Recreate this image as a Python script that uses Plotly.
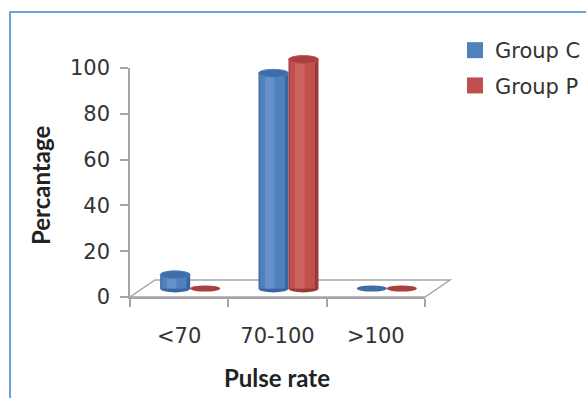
import plotly.graph_objects as go

# ---- data ----
categories = ["<70", "70-100", ">100"]
group_c = [6, 94, 0]
group_p = [0, 100, 0]
series_names = ["Group C", "Group P"]
y_ticks = [0, 20, 40, 60, 80, 100]

# ---- geometry (pixels) ----
W, H = 586, 398
AX_L, AX_R, AX_B, AX_T = 130, 425, 297, 68      # front plane of the chart
DX, DY = 11, 8.5                                  # depth shift of the bar plane
FLOOR_DX, FLOOR_DY = 25, 17                       # depth of the floor
Y_RANGE = [0, 100]
Y2_RANGE = [-10, 106]


def fx(p):
    return p / W


def fy(p):
    return 1 - p / H


def y_domain(pix0, pix100, rng):
    scale = (pix0 - pix100) / 100.0
    top = pix0 - rng[1] * scale
    bot = pix0 - rng[0] * scale
    return [fy(bot), fy(top)]


palettes = {
    "Group C": dict(edge="#3A66A0", main="#4F81BD", light="#6690CC", top="#3F6DA8", legend="#4F81BD"),
    "Group P": dict(edge="#983A37", main="#C0504D", light="#CF625E", top="#A8413E", legend="#C0504D"),
}
BAR_W = 0.305
offsets = [-BAR_W, 0.0]
EH = 1.7   # half height of cylinder ends, in value units

fig = go.Figure()
shapes = []

# floor of the 3D plot
floor = (f"M {fx(AX_L)},{fy(AX_B)} L {fx(AX_R)},{fy(AX_B)} "
         f"L {fx(AX_R + FLOOR_DX)},{fy(AX_B - FLOOR_DY)} "
         f"L {fx(AX_L + FLOOR_DX)},{fy(AX_B - FLOOR_DY)} Z")
shapes.append(dict(type="path", path=floor, xref="paper", yref="paper",
                   line=dict(color="#A6A6A6", width=1.5), fillcolor="white", layer="below"))

# outer chart border
shapes.append(dict(type="rect", xref="paper", yref="paper",
                   x0=fx(10), x1=fx(W + 20), y0=fy(12), y1=fy(H + 20),
                   line=dict(color="#6FA0D8", width=2), layer="above"))

for name, vals, off in zip(series_names, [group_c, group_p], offsets):
    pal = palettes[name]
    layers = [
        (pal["edge"], BAR_W, off),
        (pal["main"], BAR_W * 0.84, off + BAR_W * 0.04),
        (pal["light"], BAR_W * 0.32, off + BAR_W * 0.22),
    ]
    for color, w, o in layers:
        fig.add_trace(go.Bar(
            x=categories, y=vals, name=name, width=w, offset=o,
            marker=dict(color=color, line=dict(width=0)),
            showlegend=False, xaxis="x2", yaxis="y2", hoverinfo="skip",
        ))
    # cylinder ends
    for j, v in enumerate(vals):
        cx = j + off + BAR_W / 2
        if v > 0:
            shapes.append(dict(type="circle", xref="x2", yref="y2",
                               x0=cx - BAR_W / 2, x1=cx + BAR_W / 2, y0=-EH, y1=EH,
                               fillcolor=pal["edge"], line=dict(width=0), layer="below"))
            shapes.append(dict(type="circle", xref="x2", yref="y2",
                               x0=cx - BAR_W / 2, x1=cx + BAR_W / 2, y0=v - EH, y1=v + EH,
                               fillcolor=pal["top"], line=dict(color=pal["main"], width=1),
                               layer="above"))
        else:
            shapes.append(dict(type="circle", xref="x2", yref="y2",
                               x0=cx - BAR_W / 2, x1=cx + BAR_W / 2, y0=-EH * 0.8, y1=EH * 0.8,
                               fillcolor=pal["top"], line=dict(width=0), layer="above"))
    # legend entry
    fig.add_trace(go.Scatter(
        x=[None], y=[None], mode="markers", name=name, legendgroup=name,
        marker=dict(symbol="square", size=17, color=pal["legend"]),
        xaxis="x", yaxis="y",
    ))

tick_font = dict(family="DejaVu Sans", size=21, color="#333333")

fig.update_layout(
    width=W, height=H,
    margin=dict(l=0, r=0, t=0, b=0, autoexpand=False),
    paper_bgcolor="white", plot_bgcolor="rgba(0,0,0,0)",
    barmode="overlay",
    showlegend=True,
    legend=dict(x=fx(455), y=fy(30), xanchor="left", yanchor="top",
                font=dict(family="DejaVu Sans", size=21, color="#333333"),
                bgcolor="rgba(0,0,0,0)", itemsizing="trace", tracegroupgap=5),
    xaxis=dict(
        domain=[fx(AX_L), fx(AX_R)], type="category", categoryarray=categories,
        range=[-0.5, 2.5], showline=True, linecolor="#A6A6A6", linewidth=1.5,
        ticks="outside", tickson="boundaries", ticklen=8, tickcolor="#A6A6A6",
        tickwidth=1.5, tickfont=tick_font, showgrid=False, zeroline=False,
        ticklabelstandoff=19, fixedrange=True, anchor="y",
    ),
    yaxis=dict(
        domain=[fy(AX_B), fy(AX_T)], range=Y_RANGE, tickvals=y_ticks,
        showline=True, linecolor="#A6A6A6", linewidth=1.5,
        ticks="outside", ticklen=8, tickcolor="#A6A6A6", tickwidth=1.5,
        tickfont=tick_font, showgrid=False, zeroline=False,
        ticklabelstandoff=6, fixedrange=True, anchor="x",
    ),
    xaxis2=dict(
        domain=[fx(AX_L + DX), fx(AX_R + DX)], type="category",
        categoryarray=categories, range=[-0.5, 2.5], visible=False,
        anchor="y2", fixedrange=True,
    ),
    yaxis2=dict(
        domain=y_domain(AX_B - DY, AX_T - DY, Y2_RANGE), range=Y2_RANGE,
        visible=False, anchor="x2", fixedrange=True,
    ),
    shapes=shapes,
    annotations=[
        dict(text="<b>Percantage</b>", xref="paper", yref="paper",
             x=fx(40), y=fy(186), xanchor="center", yanchor="middle",
             textangle=-90, showarrow=False,
             font=dict(family="Lato", size=24, color="#222222")),
        dict(text="<b>Pulse rate</b>", xref="paper", yref="paper",
             x=fx(277), y=fy(377), xanchor="center", yanchor="middle",
             showarrow=False,
             font=dict(family="Lato", size=24, color="#222222")),
    ],
)

fig.write_html("out.html")
